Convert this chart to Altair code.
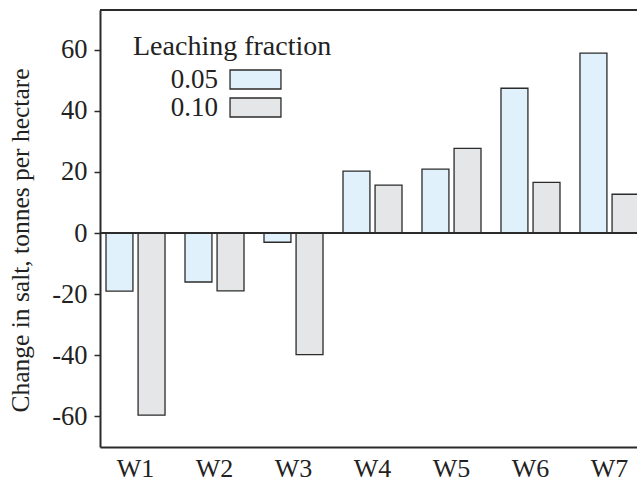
import altair as alt
import pandas as pd

# ---- data ----
sites = ["W1", "W2", "W3", "W4", "W5", "W6", "W7"]
series = ["0.05", "0.10"]
lf_005 = [-19.0, -16.0, -3.0, 20.3, 20.9, 47.4, 58.9]
lf_010 = [-59.6, -18.9, -39.8, 15.7, 27.7, 16.6, 12.7]
colors = ["#e0f1fb", "#e5e6e8"]
y_ticks = list(range(-60, 61, 10))
y_title = "Change in salt, tonnes per hectare"
legend_title = "Leaching fraction"

rows = []
for s, v in zip(sites, lf_005):
    rows.append({"site": s, "lf": series[0], "value": v})
for s, v in zip(sites, lf_010):
    rows.append({"site": s, "lf": series[1], "value": v})
df = pd.DataFrame(rows)

FONT = "Liberation Serif"
INK = "#2b2b2b"
W, H = 537, 437

bars = alt.Chart(df).mark_bar(stroke=INK, strokeWidth=1.3).encode(
    x=alt.X(
        "site:N",
        sort=sites,
        scale=alt.Scale(range=[0, 545], paddingInner=0.253, paddingOuter=0.076),
        axis=alt.Axis(
            title=None, labelAngle=0, ticks=False, domain=True,
            domainColor=INK, domainWidth=2,
            labelFont=FONT, labelFontSize=26, labelColor="#222",
            labelPadding=8,
        ),
    ),
    xOffset=alt.XOffset("lf:N", sort=series,
                        scale=alt.Scale(paddingInner=0.16, paddingOuter=0)),
    y=alt.Y(
        "value:Q",
        scale=alt.Scale(domain=[-70, 73], nice=False, zero=True),
        axis=alt.Axis(
            values=y_ticks,
            labelExpr="datum.value % 20 === 0 ? '' + datum.value : ''",
            grid=False,
            domain=True, domainColor=INK, domainWidth=2,
            ticks=True, tickColor=INK, tickWidth=1.5, tickSize=6,
            labelFont=FONT, labelFontSize=26.5, labelColor="#222", labelPadding=7,
            title=y_title, titleFont=FONT, titleFontSize=25.5,
            titleFontWeight="normal", titleColor="#222",
            titleX=-67, titleY=230, titleAlign="center", titleBaseline="bottom",
        ),
    ),
    fill=alt.Fill(
        "lf:N",
        sort=series,
        scale=alt.Scale(domain=series, range=colors),
        legend=alt.Legend(
            title=legend_title, orient="none", legendX=33, legendY=23,
            direction="vertical", padding=0,
            titleFont=FONT, titleFontSize=28, titleFontWeight="normal",
            titleColor="#222", titlePadding=5, titleAnchor="start",
            titleLimit=400,
            labelFont=FONT, labelFontSize=27, labelColor="#222",
            labelAlign="right", labelOffset={"expr": "-51"},
            symbolType="M-2.68,-1H2.68V1H-2.68Z", symbolSize=361,
            symbolOffset=109, symbolStrokeColor=INK, symbolStrokeWidth=1.3,
            rowPadding=0,
        ),
    ),
)

zero_df = pd.DataFrame({"v": [0]})
zero_line = alt.Chart(zero_df).mark_rule(color=INK, strokeWidth=2).encode(y="v:Q")
top_df = pd.DataFrame({"v": [73]})
top_line = alt.Chart(top_df).mark_rule(color=INK, strokeWidth=2).encode(y="v:Q")

chart = alt.layer(bars, zero_line, top_line).properties(
    width=W, height=H,
    autosize=alt.AutoSizeParams(type="none"),
    padding={"left": 100, "top": 10, "right": 0, "bottom": 34},
    background="white",
).configure_view(stroke=None)

chart.save("out.html", embed_options={"renderer": "svg", "actions": False})
